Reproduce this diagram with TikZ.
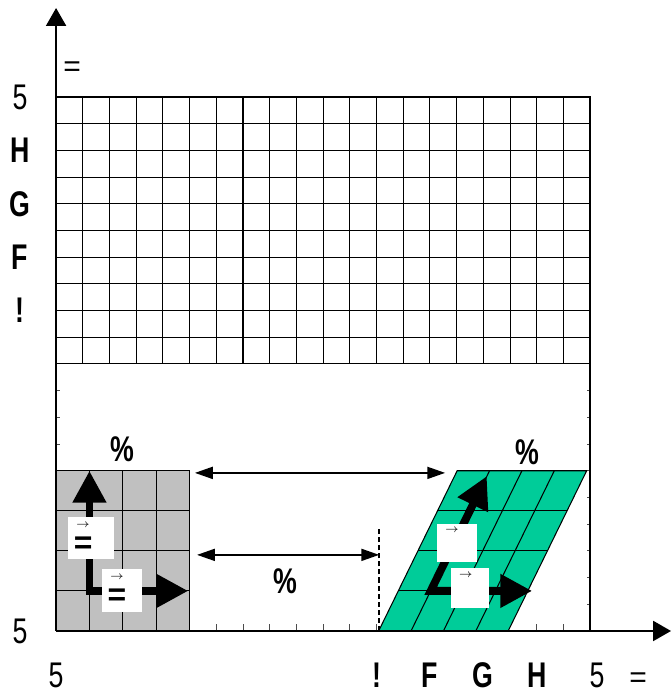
\documentclass[tikz,border=0pt]{standalone}
\usepackage{fontspec}
\setmainfont{Liberation Sans}[FakeStretch=0.75]
\newfontfamily\eqfont{Liberation Sans}
\usetikzlibrary{arrows.meta}
\definecolor{shearcol}{RGB}{0,204,153}
\definecolor{boxgray}{RGB}{192,192,192}
\newcommand\vecsym[1]{\shortstack{{\fontsize{6}{6}\selectfont$\rightarrow$}\\[2pt]{\eqfont\bfseries\fontsize{17}{17}\selectfont#1}}}

\begin{document}
\begin{tikzpicture}[x=.5cm,y=.5cm,
  lab/.style={font=\fontsize{19}{20}\selectfont},
  blab/.style={font=\fontsize{19}{20}\selectfont\bfseries},
  eqlab/.style={font=\eqfont\fontsize{16}{16}\selectfont},
  cellline/.style={line width=.55pt},
  tickline/.style={line width=.5pt,black!70},
  axisline/.style={line width=1pt,-{Triangle[length=9.5pt,width=10.6pt]}},
  dimarrow/.style={line width=.9pt,
    {Triangle[length=9.5pt,width=6.4pt]}-{Triangle[length=9.5pt,width=6.4pt]}},
  bigarrow/.style={line width=4.2pt,line join=miter,
    {Triangle[length=17pt,width=17pt]}-{Triangle[length=17pt,width=17pt]}},
  vecbox/.style={fill=white,inner xsep=3pt,inner ysep=0pt,text width=#1,align=left}]
\useasboundingbox (-2.1,-2.36) rectangle (23.03,23.63);
% ticks
\foreach \i in {6,...,12,18,19}
  \draw[tickline] (\i,0) -- ++(0,.26);
\foreach \j in {7,8,9}
  \draw[tickline] (0,\j) -- ++(.15,0);
\foreach \j in {1,...,9}
  \draw[tickline] (20,\j) -- ++(-.1,0);
% upper grid
\foreach \i in {1,...,19}
  \draw[cellline] (\i,10) -- (\i,20);
\foreach \j in {10,...,19}
  \draw[cellline] (0,\j) -- (20,\j);
% unit square, gray
\fill[boxgray] (0,0) rectangle (5,6);
\foreach \k in {1,2,3} {
  \draw[cellline] (\k*1.25,0) -- (\k*1.25,6);
  \draw[cellline] (0,\k*1.5) -- (5,\k*1.5);
}
\draw[cellline] (0,0) rectangle (5,6);
% sheared square
\begin{scope}[cm={1,0,.49,1,(12.08,0)}]
\fill[shearcol] (0,0) rectangle (4.85,6);
\foreach \k in {1,2,3} {
  \draw[cellline] (\k*1.2125,0) -- (\k*1.2125,6);
  \draw[cellline] (0,\k*1.5) -- (4.85,\k*1.5);
}
\draw[cellline] (0,0) rectangle (4.85,6);
\end{scope}
% shift marks
\coordinate (topL) at (5.2,5.92);
\coordinate (topR) at (14.57,5.92);
\coordinate (lowL) at (5.28,2.85);
\coordinate (lowR) at (12.1,2.85);
\coordinate (dashtop) at (12.1,3.86);
\coordinate (dashbot) at (12.1,0);
\draw[line width=.8pt,dash pattern=on 2.7pt off 1.6pt] (dashbot) -- (dashtop);
\draw[dimarrow] (topL) -- (topR);
\draw[dimarrow] (lowL) -- (lowR);
% basis vectors
\coordinate (gc) at (1.25,1.5);
\coordinate (gu) at (1.25,6);
\coordinate (gr) at (4.95,1.5);
\coordinate (sc) at (14.03,1.5);
\coordinate (su) at (16.13,5.8);
\coordinate (sr) at (17.83,1.5);
\draw[bigarrow] (gu) -- (gc) -- (gr);
\draw[bigarrow] (su) -- (sc) -- (sr);
\node[vecbox=18.4pt,minimum height=22.3pt] (ga) at (1.31,3.48) {\vecsym{=}};
\node[vecbox=15.3pt,minimum height=22.8pt] (gb) at (2.47,1.52) {\vecsym{=}};
\node[vecbox=15.3pt,minimum height=20.1pt] (sa) at (15.02,3.29) {\vecsym{\phantom{=}}};
\node[vecbox=14.3pt,minimum height=21.3pt] (sb) at (15.5,1.61) {\vecsym{\phantom{=}}};
% frame and axes
\draw[line width=1.4pt] (0,20) -- (20,20) -- (20,0);
\draw[axisline] (0,0) -- (0,23.33);
\draw[axisline] (0,0) -- (23.03,0);
% labels
\node[lab] (yl-0) at (-1.35,0) {5};
\node[lab] (yl-20) at (-1.35,20) {5};
\foreach \v/\t in {12/!,14/F,16/G,18/H}
  \node[blab] (yl-\v) at (-1.35,\v) {\t};
\node[eqlab] (yname) at (.6,21.05) {=};
\node[lab,anchor=base] (xl-0) at (0,-2.1) {5};
\foreach \v/\t in {12/!,14/F,16/G,18/H}
  \node[blab,anchor=base] (xl-\v) at (\v,-2.1) {\t};
\node[lab,anchor=base] (xl-20) at (20.26,-2.1) {5};
\node[eqlab,anchor=base] (xname) at (21.8,-2.1) {=};
\node[blab] (pg) at (2.5,6.8) {\%};
\node[blab] (ps) at (17.64,6.7) {\%};
\node[blab] (pd) at (8.6,1.87) {\%};
\end{tikzpicture}
\end{document}
